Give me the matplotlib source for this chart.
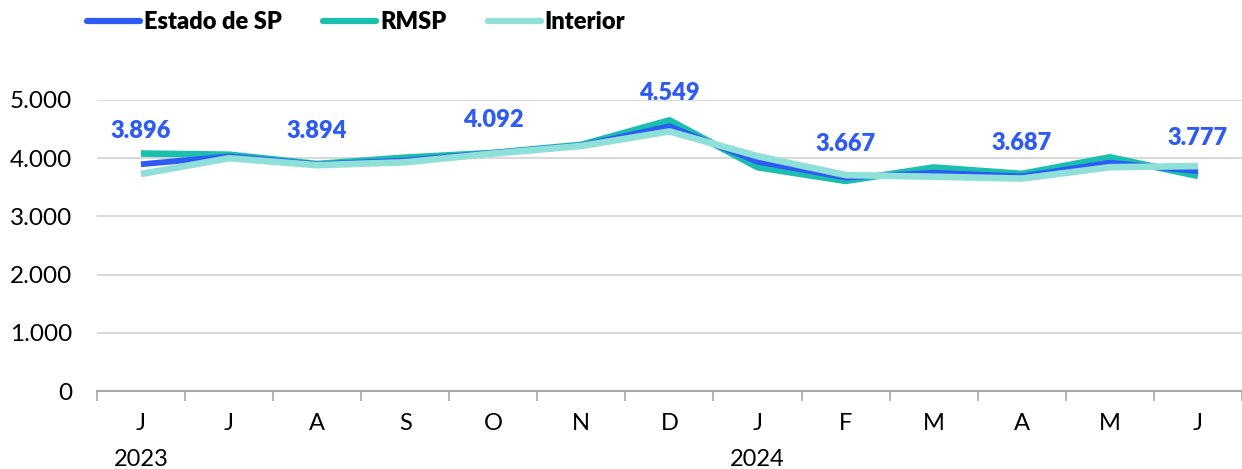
import numpy as np
import matplotlib
matplotlib.use("Agg")
import matplotlib.pyplot as plt

# monthly values, Jun/2023 - Jun/2024
months = ["J", "J", "A", "S", "O", "N", "D", "J", "F", "M", "A", "M", "J"]
years = {0: "2023", 7: "2024"}
estado = [3896, 4030, 3894, 3960, 4092, 4220, 4549, 3940, 3667, 3750, 3687, 3923, 3777]
rmsp = [4080, 4060, 3900, 4010, 4090, 4230, 4650, 3845, 3610, 3840, 3730, 4015, 3695]
interior = [3728, 4000, 3880, 3930, 4080, 4210, 4460, 4035, 3710, 3682, 3650, 3845, 3865]
labelled = [0, 2, 4, 6, 8, 10, 12]

plt.rcParams['font.family'] = ['Lato', 'DejaVu Sans']

c_estado = "#2E5BF5"
c_rmsp = "#1BBFAE"
c_interior = "#8FE0D8"

fig = plt.figure(figsize=(12.42, 4.69), dpi=100)
ax = fig.add_axes([0.078, 0.1663, 0.922, 0.6205])

x = np.arange(len(months))
ax.plot(x, rmsp, color=c_rmsp, lw=4.8, solid_capstyle="butt", label="RMSP", zorder=3)
ax.plot(x, estado, color=c_estado, lw=4.2, solid_capstyle="butt", label="Estado de SP", zorder=4)
ax.plot(x, interior, color=c_interior, lw=4.8, solid_capstyle="butt", label="Interior", zorder=5)

for i in labelled:
    ax.annotate(f"{estado[i]:,}".replace(",", "."), (x[i], estado[i]),
                xytext=(0, 16), textcoords="offset points", ha="center", va="bottom",
                color=c_estado, fontsize=17, fontweight="heavy")

ax.set_xlim(-0.5, len(months) - 0.5)
ax.set_ylim(0, 5000)
ax.set_yticks(np.arange(0, 5001, 1000))
ax.set_yticklabels([f"{v:,}".replace(",", ".") for v in range(0, 5001, 1000)], fontsize=17.5)
ax.tick_params(axis="y", length=0, pad=18)
ax.grid(axis="y", color="#D9D9D9", lw=1.5)
ax.set_axisbelow(True)

ax.set_xticks(x)
ax.set_xticklabels(months, fontsize=17)
ax.tick_params(axis="x", which="major", length=0, pad=16)
ax.set_xticks(np.arange(-0.5, len(months), 1), minor=True)
ax.tick_params(axis="x", which="minor", length=7, width=1.2, color="#A6A6A6", direction="out")

for i, yr in years.items():
    ax.text(x[i], -0.235, yr, transform=ax.get_xaxis_transform(), ha="center", va="center", fontsize=17)

for s in ["top", "right", "left"]:
    ax.spines[s].set_visible(False)
ax.spines["bottom"].set_color("#A6A6A6")
ax.spines["bottom"].set_linewidth(1.5)

h, l = ax.get_legend_handles_labels()
order = [1, 0, 2]
leg = fig.legend([h[k] for k in order], [l[k] for k in order], loc="center left",
                 bbox_to_anchor=(0.053, 0.953), ncol=3, frameon=False,
                 prop={"weight": "heavy", "size": 17}, handlelength=2.25,
                 handletextpad=0.16, columnspacing=1.75)
for line in leg.get_lines():
    line.set_linewidth(4.5)
    line.set_solid_capstyle("round")

fig.savefig("out.png", dpi=100)
